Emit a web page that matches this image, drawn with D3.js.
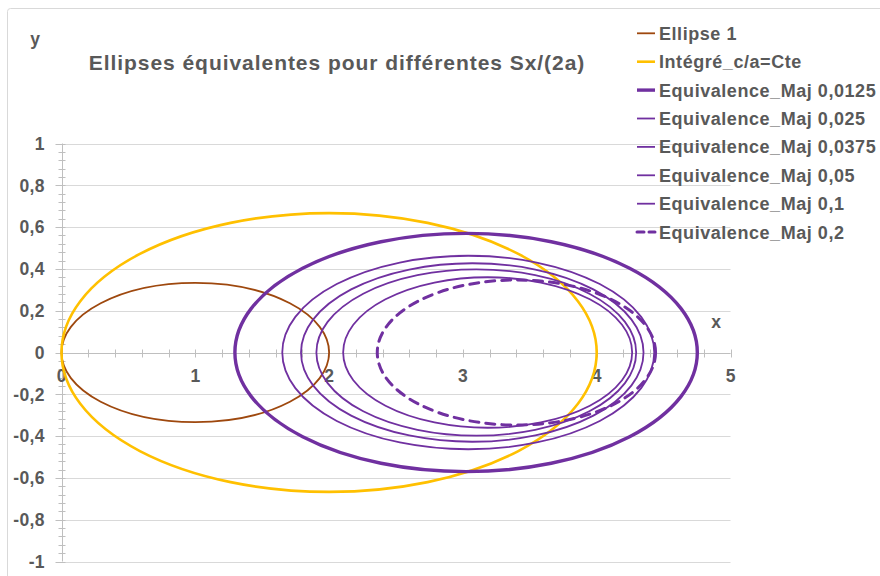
<!DOCTYPE html>
<html>
<head>
<meta charset="utf-8">
<script src="https://cdn.jsdelivr.net/npm/d3@7"></script>
<style>
  html, body { margin: 0; padding: 0; background: #fff; }
  svg { display: block; }
  text { font-family: "Liberation Sans", Arial, sans-serif; font-weight: bold; fill: #595959; }
</style>
</head>
<body>
<svg id="chart" width="880" height="576"></svg>
<script>
// Series: ellipses centred on the x axis, described by centre, semi-axes
const seriesNames = [
  "Ellipse 1",
  "Intégré_c/a=Cte",
  "Equivalence_Maj 0,0125",
  "Equivalence_Maj 0,025",
  "Equivalence_Maj 0,0375",
  "Equivalence_Maj 0,05",
  "Equivalence_Maj 0,1",
  "Equivalence_Maj 0,2"
];
const centerX   = [1, 2, 3.024, 3.04, 3.07, 3.10, 3.185, 3.40];
const semiMajor = [1, 2, 1.728, 1.39, 1.28, 1.195, 1.08, 1.04];
const semiMinor = [0.333, 0.667, 0.570, 0.463, 0.427, 0.398, 0.36, 0.347];

const xTickValues = [0, 1, 2, 3, 4, 5];
const yTickValues = [1, 0.8, 0.6, 0.4, 0.2, 0, -0.2, -0.4, -0.6, -0.8, -1];

const titleText = "Ellipses équivalentes pour différentes Sx/(2a)";

// Line styles per series
const seriesStyle = [
  { color: "#9E480E", width: 1.8, dash: null },
  { color: "#FFC000", width: 2.6, dash: null },
  { color: "#7030A0", width: 3.4, dash: null },
  { color: "#7030A0", width: 1.8, dash: null },
  { color: "#7030A0", width: 1.8, dash: null },
  { color: "#7030A0", width: 1.8, dash: null },
  { color: "#7030A0", width: 1.8, dash: null },
  { color: "#7030A0", width: 3.0, dash: "9,7" }
];

const svg = d3.select("#chart");
// decimal comma, plain hyphen for negatives
const fmt = v => String(Math.round(v * 10) / 10).replace(".", ",");

const x = d3.scaleLinear().domain([0, 5]).range([61.5, 730.5]);
const y = d3.scaleLinear().domain([-1, 1]).range([561.5, 143.5]);

// chart frame
svg.append("rect")
  .attr("x", 7.5).attr("y", 8.5).attr("width", 900).attr("height", 600)
  .attr("rx", 3)
  .attr("fill", "#fff").attr("stroke", "#D9D9D9").attr("stroke-width", 1);

// horizontal gridlines
svg.append("g").selectAll("line").data(yTickValues).join("line")
  .attr("x1", x(0)).attr("x2", x(5))
  .attr("y1", d => Math.round(y(d)) + 0.5).attr("y2", d => Math.round(y(d)) + 0.5)
  .attr("stroke", "#D9D9D9").attr("stroke-width", 1);

// y axis (at x = 0) with minor ticks every 0.04
const yAxisG = svg.append("g").attr("transform", `translate(${Math.round(x(0)) + 0.5},0)`);
yAxisG.append("line").attr("y1", y(1)).attr("y2", y(-1)).attr("stroke", "#BFBFBF");
const yMinor = d3.range(-25, 26).map(i => i * 0.04);
yAxisG.selectAll("line.minor").data(yMinor).join("line").attr("class", "minor")
  .attr("x1", -4).attr("x2", 3)
  .attr("y1", d => Math.round(y(d)) + 0.5).attr("y2", d => Math.round(y(d)) + 0.5)
  .attr("stroke", "#BFBFBF");
yAxisG.selectAll("line.major").data(yTickValues).join("line").attr("class", "major")
  .attr("x1", -7).attr("x2", 0)
  .attr("y1", d => Math.round(y(d)) + 0.5).attr("y2", d => Math.round(y(d)) + 0.5)
  .attr("stroke", "#BFBFBF");
svg.append("g").selectAll("text").data(yTickValues).join("text")
  .attr("x", 45).attr("y", d => y(d))
  .attr("dy", "0.36em")
  .attr("text-anchor", "end")
  .style("font-size", "17.5px").style("letter-spacing", "0.4px")
  .text(d => fmt(d));

// x axis (at y = 0) with minor ticks every 0.2
const xAxisG = svg.append("g").attr("transform", `translate(0,${Math.round(y(0)) + 0.5})`);
xAxisG.append("line").attr("x1", x(0)).attr("x2", x(5)).attr("stroke", "#BFBFBF");
const xMinor = d3.range(0, 26).map(i => i * 0.2);
xAxisG.selectAll("line.tick").data(xMinor).join("line").attr("class", "tick")
  .attr("x1", d => Math.round(x(d)) + 0.5).attr("x2", d => Math.round(x(d)) + 0.5)
  .attr("y1", -4).attr("y2", 4)
  .attr("stroke", "#BFBFBF");
svg.append("g").selectAll("text").data(xTickValues).join("text")
  .attr("x", d => x(d)).attr("y", y(0) + 23)
  .attr("dy", "0.36em")
  .attr("text-anchor", "middle")
  .style("font-size", "17.5px")
  .text(d => fmt(d));

// axis names
svg.append("text").attr("x", 35).attr("y", 45).attr("text-anchor", "middle")
  .style("font-size", "17.5px").text("y");
svg.append("text").attr("x", 716).attr("y", 328).attr("text-anchor", "middle")
  .style("font-size", "17.5px").text("x");

// title
svg.append("text").attr("x", 337).attr("y", 62).attr("dy", "0.36em")
  .attr("text-anchor", "middle")
  .style("font-size", "21px").style("letter-spacing", "0.95px")
  .text(titleText);

// ellipses
const idx = d3.range(seriesNames.length);
svg.append("g").selectAll("ellipse").data(idx).join("ellipse")
  .attr("cx", i => x(centerX[i]))
  .attr("cy", y(0))
  .attr("rx", i => x(centerX[i] + semiMajor[i]) - x(centerX[i]))
  .attr("ry", i => y(0) - y(semiMinor[i]))
  .attr("fill", "none")
  .attr("stroke", i => seriesStyle[i].color)
  .attr("stroke-width", i => seriesStyle[i].width)
  .attr("stroke-dasharray", i => seriesStyle[i].dash)
  .attr("stroke-linecap", i => seriesStyle[i].dash ? "round" : null);

// legend
const legend = svg.append("g");
const legendY = i => 33.3 + i * 28.4;
legend.selectAll("line").data(idx).join("line")
  .attr("x1", 637).attr("x2", 655)
  .attr("y1", i => legendY(i)).attr("y2", i => legendY(i))
  .attr("stroke", i => seriesStyle[i].color)
  .attr("stroke-width", i => seriesStyle[i].width)
  .attr("stroke-dasharray", i => seriesStyle[i].dash ? "7,5" : null)
  .attr("stroke-linecap", i => seriesStyle[i].dash ? "round" : null);
legend.selectAll("text").data(idx).join("text")
  .attr("x", 659).attr("y", i => legendY(i))
  .attr("dy", "0.36em")
  .style("font-size", "18px").style("letter-spacing", "0.55px")
  .text(i => seriesNames[i]);
</script>
</body>
</html>
